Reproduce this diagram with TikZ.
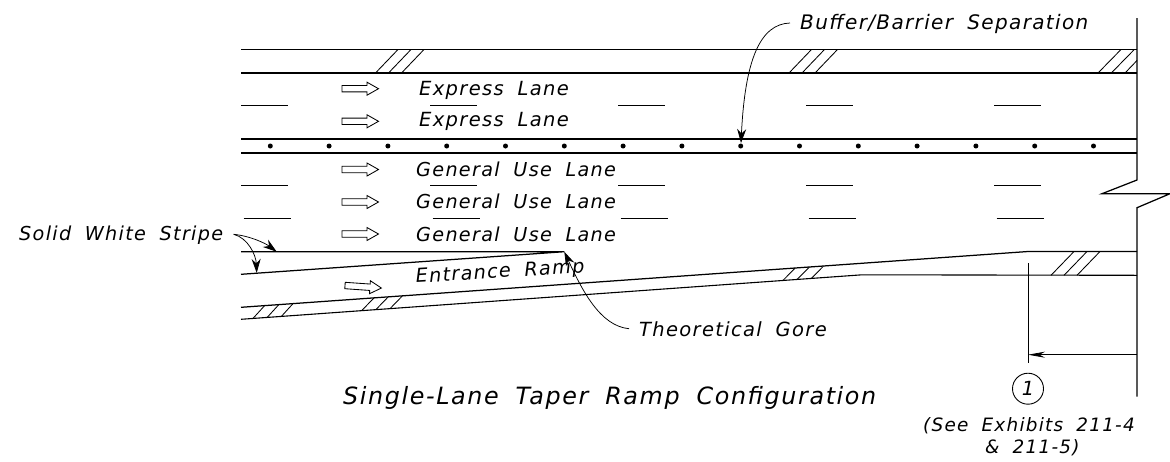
\documentclass[tikz,border=0pt]{standalone}
\usepackage{fontspec}
\setmainfont[LetterSpace=6.8,WordSpace=1.85]{DejaVu Sans}
\usetikzlibrary{arrows.meta}
\tikzset{
  road/.style={line width=1.25pt,black},
  thin road/.style={line width=1.1pt,black},
  lanedash/.style={line width=1.35pt,black},
  hatch/.style={line width=0.85pt,black},
  leader/.style={line width=0.75pt,black,-{Stealth[length=14pt,width=9pt]}},
  lbl/.style={anchor=base west,inner sep=0pt,font=\fontsize{19.5}{21}\selectfont\itshape},
  genlbl/.style={lbl,font=\fontsize{19.2}{21}\selectfont\itshape},
  bigarrow/.style={line width=0.85pt,black,fill=white},
}
\newcommand{\hollowarrow}[3][0]{%
  \draw[bigarrow,rotate around={#1:(#2,#3)}] (#2,#3-3.2) -- ++(25,0) -- ++(0,-3.3) -- ++(11.5,6.5) -- ++(-11.5,6.5) -- ++(0,-3.3) -- ++(-25,0) -- cycle;}
\begin{document}
\begin{tikzpicture}[x=1pt,y=-1pt]
\useasboundingbox (0,0) rectangle (1170,461);
% express shoulder and barrier
\draw[road] (241,49.5) -- (1137,49.5);
\draw[road] (241,73) -- (1137,73);
\draw[road] (241,139) -- (1137,139);
\draw[road] (241,153) -- (1137,153);
% right break line
\draw[road] (1137,18) -- (1137,180) -- (1102,193.7) -- (1170,193.7) -- (1137,207.7) -- (1137,396.7);
% hatching
\foreach \o in {0,13,26} {
  \draw[hatch] (375.5+\o,73) -- (398+\o,49.5);
  \draw[hatch] (789+\o,73) -- (811.5+\o,49.5);
}
\foreach \o in {0,13.3} \draw[hatch] (1098+\o,73) -- (1121+\o,49.5);
\draw[hatch] (1125,73) -- (1137,60.5);
% lane dashes
\foreach \xa in {241,430,618,806,994} {
  \draw[lanedash] (\xa,105.7) -- ++(47,0);
  \draw[lanedash] (\xa,185.7) -- ++(47,0);
  \draw[lanedash] (\xa+2.7,218.7) -- ++(47,0);
}
% barrier dots
\foreach \i in {0,...,14} \fill ({270.3+58.8*\i},146) circle (2.5pt);
% ramp
\coordinate (goreTip) at (564.3,251.7);
\coordinate (stripeTipA) at (276.7,251.7);
\coordinate (stripeTipB) at (256.7,272.9);
\draw[road] (241,251.7) -- (goreTip) -- (241,274.3);
\draw[road] (241,307.3) -- (1028,251.5) -- (1137,251.5);
\draw[thin road] (241,319.3) -- (862,274.8) -- (1137,275.3);
\foreach \o in {0,14.2,28.4} {
  \draw[hatch] (253+\o,318.4-.0718*\o) -- (265+\o,305.2-.0706*\o);
  \draw[hatch] (361.7+\o,310.6-.0718*\o) -- (374+\o,297.9-.0706*\o);
  \draw[hatch] (783+\o,280.4-.0718*\o) -- (795+\o,268.2-.0706*\o);
}
\foreach \o in {0,13,26} \draw[hatch] (1051+\o,275.3) -- (1074+\o,251.5);
% dimension
\coordinate (dimEnd) at (1028,354.7);
\coordinate (dimStart) at (1137,354.7);
\draw[line width=0.95pt] (1028.2,263.3) -- (1028.2,363.3);
\draw[line width=0.8pt,-{Stealth[length=17pt,width=6pt]}] (dimStart) -- (dimEnd);
\node[circle,draw,line width=0.9pt,minimum size=31pt,inner sep=0pt,font=\fontsize{19.5}{21}\selectfont\itshape] (one) at (1028,388.7) {1};
% hollow arrows
\hollowarrow{342}{88.7}
\hollowarrow{342}{121.3}
\hollowarrow{342}{169.5}
\hollowarrow{342}{202}
\hollowarrow{342}{234}
\hollowarrow[-4]{345}{285.5}
% labels
\node[lbl] (e1) at (419,95.7) {Express Lane};
\node[lbl] (e2) at (419,126.7) {Express Lane};
\node[genlbl] (g1) at (416,176) {General Use Lane};
\node[genlbl] (g2) at (416,208.5) {General Use Lane};
\node[genlbl] (g3) at (416,241) {General Use Lane};
\node[genlbl,rotate=3.5] (ramp) at (416,283) {Entrance Ramp};
\node[genlbl] (stripe) at (19,240.7) {Solid White Stripe};
\node[lbl,font=\fontsize{20}{22}\selectfont\itshape] (buffer) at (800,29) {Buffer/Barrier Separation};
\node[lbl] (gore) at (639,336) {Theoretical Gore};
\node[lbl,font=\fontsize{23.8}{25}\selectfont\itshape] (title) at (343,404) {Single-Lane Taper Ramp Configuration};
\node[lbl,font=\fontsize{18.4}{20}\selectfont\itshape] (see1) at (923,431) {(See Exhibits 211-4};
\node[lbl,font=\fontsize{18.4}{20}\selectfont\itshape] (see2) at (985,453) {\& 211-5)};
% leaders
\coordinate (bufTip) at (741,143);
\draw[leader] (790,23) .. controls (760,24) and (745,60) .. (bufTip);
\draw[leader] (629,328.7) .. controls (600,326) and (582,290) .. (goreTip);
\draw[leader] (233.7,234.3) .. controls (250,236) and (265,243) .. (stripeTipA);
\draw[leader] (233.7,234.3) .. controls (248,238) and (256,255) .. (stripeTipB);
\end{tikzpicture}
\end{document}
